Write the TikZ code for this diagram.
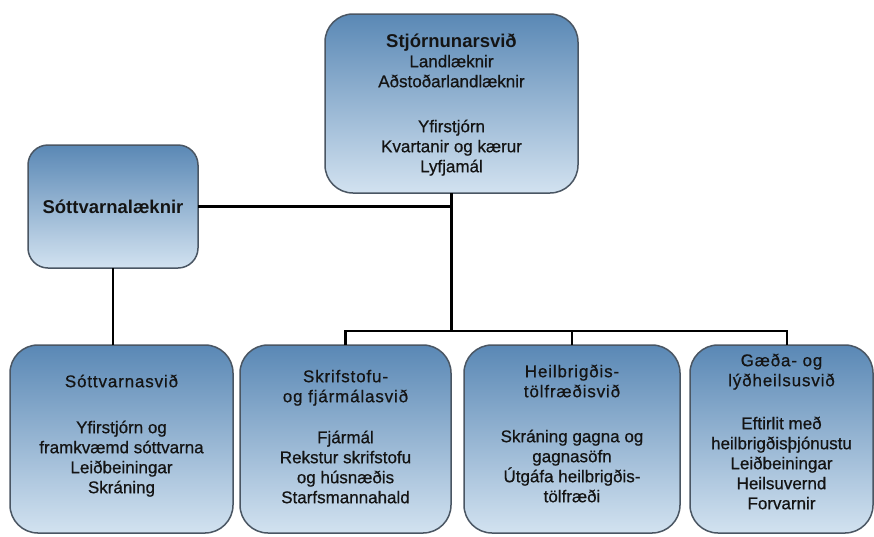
\documentclass[tikz,border=0pt]{standalone}
\usepackage{fontspec}
\setmainfont{Liberation Sans}[UprightFeatures={FakeBold=0.6}]
\newcommand\fstrut{\rule{0pt}{16pt}}
\definecolor{boxtop}{HTML}{5A88B5}
\definecolor{boxbot}{HTML}{D2E2F0}
\definecolor{boxline}{HTML}{4A5663}
\definecolor{txtcol}{HTML}{141414}
\begin{document}
\begin{tikzpicture}[x=1pt,y=-1pt,
  box/.style={draw=boxline, line width=1.5pt, rounded corners=28pt,
    top color=boxtop, bottom color=boxbot, inner sep=0pt, outer sep=0pt},
  txt/.style={anchor=north, align=center, inner sep=0pt, text=txtcol,
    font=\fontsize{17}{20}\selectfont},
  ttl/.style={font=\fontsize{18.5}{20}\selectfont\bfseries, text=txtcol},
  conn/.style={line width=2.6pt, black}]
\fill[white] (0,0) rectangle (874,536);
\useasboundingbox (0,0) rectangle (874,536);
% boxes
\node[box, minimum width=253pt, minimum height=179pt] (top) at (451.5,103.5) {};
\node[box, rounded corners=20pt, minimum width=170pt, minimum height=123pt, ttl] (sott) at (113,206.5) {Sóttvarnalæknir};
\node[box, minimum width=223pt, minimum height=188pt] (b1) at (121.5,439) {};
\node[box, minimum width=211pt, minimum height=188pt] (b2) at (345.5,439) {};
\node[box, minimum width=216pt, minimum height=188pt] (b3) at (572,439) {};
\node[box, minimum width=183pt, minimum height=188pt] (b4) at (781.5,439) {};
% texts
\node[txt] (ttop) at (451.5,31) {\fstrut{\fontsize{18.5}{20}\selectfont\bfseries Stjórnunarsvið}\\
  Landlæknir\\ Aðstoðarlandlæknir\\[25pt] Yfirstjórn\\ Kvartanir og kærur\\ Lyfjamál};
\node[txt] (tb1) at (121.5,371) {\fstrut{\addfontfeature{LetterSpace=5}Sóttvarnasvið}\\[26pt]
  Yfirstjórn og\\ framkvæmd sóttvarna\\ Leiðbeiningar\\ Skráning};
\node[txt] (tb2) at (345.5,366) {\fstrut{\addfontfeature{LetterSpace=5}Skrifstofu-}\\
  {\addfontfeature{LetterSpace=5}og fjármálasvið}\\[21pt]
  Fjármál\\ Rekstur skrifstofu\\ og húsnæðis\\ Starfsmannahald};
\node[txt] (tb3) at (572,361) {\fstrut{\addfontfeature{LetterSpace=5}Heilbrigðis-}\\
  {\addfontfeature{LetterSpace=5}tölfræðisvið}\\[25pt]
  Skráning gagna og\\ gagnasöfn\\ Útgáfa heilbrigðis-\\ tölfræði};
\node[txt] (tb4) at (781.5,350) {\fstrut{\addfontfeature{LetterSpace=5}Gæða- og}\\
  {\addfontfeature{LetterSpace=5}lýðheilsusvið}\\[23pt]
  Eftirlit með\\ heilbrigðisþjónustu\\ Leiðbeiningar\\ Heilsuvernd\\ Forvarnir};
% connectors
\coordinate (bus) at (451.5,331);
\coordinate (b4top) at ([xshift=5.5pt]b4.north);
\draw[conn] (top.south) -- (bus);
\draw[conn] (b2.north) |- (bus) -| (b4top);
\draw[conn] (b3.north) -- (b3.north |- bus);
\draw[conn] (sott.east) -- (sott.east -| top.south);
\draw[conn] (sott.south) -- (sott.south |- b1.north);
\end{tikzpicture}
\end{document}
